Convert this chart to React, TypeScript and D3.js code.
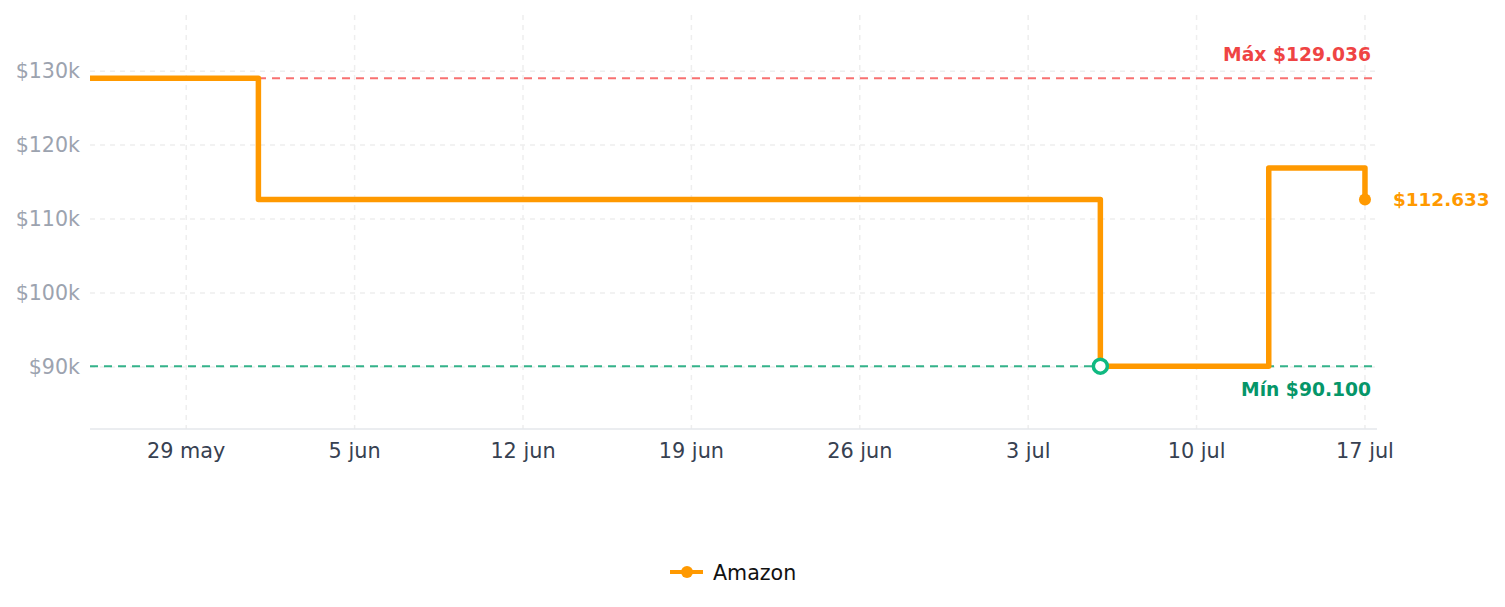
import React from "react";
import * as d3 from "d3";

const dates: string[] = ["2025-05-25", "2025-06-01", "2025-07-06", "2025-07-13", "2025-07-17"];
const prices: number[] = [129036, 112633, 90100, 116900, 112633];
const yTicks: number[] = [90000, 100000, 110000, 120000, 130000];
const xTickDates: string[] = ["2025-05-29", "2025-06-05", "2025-06-12", "2025-06-19", "2025-06-26", "2025-07-03", "2025-07-10", "2025-07-17"];
const xTickLabels: string[] = ["29 may", "5 jun", "12 jun", "19 jun", "26 jun", "3 jul", "10 jul", "17 jul"];
const maxPrice = 129036;
const minPrice = 90100;
const minDate = "2025-07-06";
const seriesName = "Amazon";

const W = 1505, H = 607;
const left = 90, right = 1377, top = 15, bottom = 429;
const ORANGE = "#ff9900";

const parse = (s: string) => new Date(s + "T00:00:00");
const fmt = (v: number) => "$" + d3.format(",")(v).replace(/,/g, ".");

export default function App() {
  const x = d3.scaleTime().domain([parse("2025-05-25"), new Date(parse("2025-07-17").getTime() + 12 * 3600 * 1000)]).range([left, right]);
  const y = d3.scaleLinear().domain([81600, 137600]).range([bottom, top]);
  const pts: [number, number][] = dates.map((d, i) => [x(parse(d)), y(prices[i])]);
  const line = d3.line().curve(d3.curveStepAfter)(pts) || "";
  const last = pts[pts.length - 1];
  const font = "DejaVu Sans, sans-serif";
  return (
    <svg width={W} height={H} style={{ position: "absolute", left: 0, top: 0, fontFamily: font }}>
      <rect width={W} height={H} fill="#fff" />
      {yTicks.map((t) => (
        <g key={t}>
          <line x1={left} x2={right} y1={y(t)} y2={y(t)} stroke="#eeeeee" strokeWidth={1.5} strokeDasharray="5 5" />
          <text x={80} y={y(t)} dy="0.35em" textAnchor="end" fill="#9ca3af" fontSize={20.6}>{"$" + t / 1000 + "k"}</text>
        </g>
      ))}
      {xTickDates.map((d, i) => (
        <g key={d}>
          <line x1={x(parse(d))} x2={x(parse(d))} y1={top} y2={bottom} stroke="#eeeeee" strokeWidth={1.5} strokeDasharray="5 5" />
          <text x={x(parse(d))} y={451} dy="0.35em" textAnchor="middle" fill="#374151" fontSize={20.8}>{xTickLabels[i]}</text>
        </g>
      ))}
      <line x1={left} x2={right} y1={bottom} y2={bottom} stroke="#e5e7eb" strokeWidth={1.5} />
      <line x1={left} x2={right} y1={y(maxPrice)} y2={y(maxPrice)} stroke="#f87171" strokeWidth={2} strokeDasharray="8 6" />
      <line x1={left} x2={right} y1={y(minPrice)} y2={y(minPrice)} stroke="#34b38a" strokeWidth={2} strokeDasharray="8 6" />
      <text x={1371} y={y(maxPrice) - 24} dy="0.35em" textAnchor="end" fill="#ef4444" fontSize={18.7} fontWeight="bold">{"Máx " + fmt(maxPrice)}</text>
      <text x={1371} y={y(minPrice) + 23} dy="0.35em" textAnchor="end" fill="#059669" fontSize={18.7} fontWeight="bold">{"Mín " + fmt(minPrice)}</text>
      <path d={line} fill="none" stroke={ORANGE} strokeWidth={5.5} strokeLinejoin="round" />
      <circle cx={last[0]} cy={last[1]} r={6} fill={ORANGE} />
      <text x={last[0] + 28} y={last[1]} dy="0.35em" fill={ORANGE} fontSize={18.4} fontWeight="bold">{fmt(prices[prices.length - 1])}</text>
      <circle cx={x(parse(minDate))} cy={y(minPrice)} r={7} fill="#fff" stroke="#10b981" strokeWidth={3.5} />
      <g>
        <line x1={670} x2={703} y1={572} y2={572} stroke={ORANGE} strokeWidth={4} />
        <circle cx={687} cy={572} r={6} fill={ORANGE} />
        <text x={713} y={573} dy="0.35em" fill="#111" fontSize={20.6}>{seriesName}</text>
      </g>
    </svg>
  );
}
